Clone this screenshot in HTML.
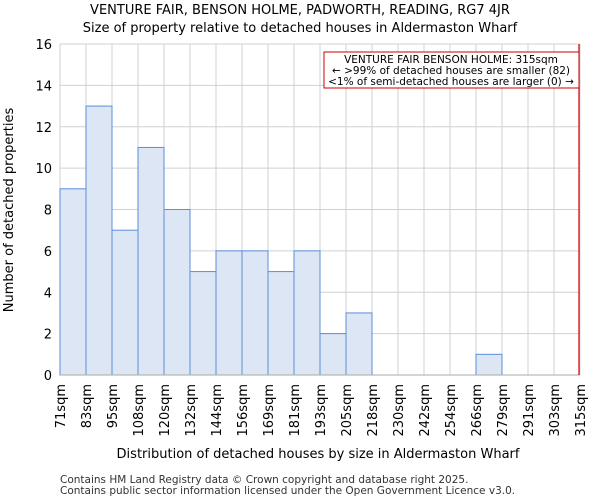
<!DOCTYPE html>
<html><head><meta charset="utf-8"><style>
body{margin:0;background:#fff;font-family:"DejaVu Sans","Liberation Sans",sans-serif}
</style></head><body>
<svg width="600" height="500" xmlns="http://www.w3.org/2000/svg" font-family="DejaVu Sans, Liberation Sans, sans-serif">
<g id="grid"></g>
<g id="bars"></g>
<g id="xt"></g>
<g id="yt"></g>
<line x1="60" y1="375" x2="580" y2="375" stroke="#aaa"/>
<line x1="579" y1="44" x2="579" y2="375" stroke="#cc0000" stroke-width="1.2"/>
<rect x="324" y="52" width="255" height="36" fill="#fff" stroke="#cc0000"/>
<g font-size="10.5" text-anchor="middle" fill="#000">
<text x="451" y="63">VENTURE FAIR BENSON HOLME: 315sqm</text>
<text x="451" y="74">← &gt;99% of detached houses are smaller (82)</text>
<text x="451" y="85">&lt;1% of semi-detached houses are larger (0) →</text>
</g>
<text x="300" y="14" font-size="13" text-anchor="middle">VENTURE FAIR, BENSON HOLME, PADWORTH, READING, RG7 4JR</text>
<text x="300" y="32" font-size="13" text-anchor="middle">Size of property relative to detached houses in Aldermaston Wharf</text>
<text x="318" y="458" font-size="13" text-anchor="middle">Distribution of detached houses by size in Aldermaston Wharf</text>
<text transform="translate(13,210) rotate(-90)" font-size="13" text-anchor="middle">Number of detached properties</text>
<text x="60" y="483" font-size="10.5" fill="#333">Contains HM Land Registry data © Crown copyright and database right 2025.</text>
<text x="60" y="494" font-size="10.5" fill="#333">Contains public sector information licensed under the Open Government Licence v3.0.</text>
</svg>
<script>
const categories=["71sqm","83sqm","95sqm","108sqm","120sqm","132sqm","144sqm","156sqm","169sqm","181sqm","193sqm","205sqm","218sqm","230sqm","242sqm","254sqm","266sqm","279sqm","291sqm","303sqm","315sqm"];
const counts=[9,13,7,11,8,5,6,6,5,6,2,3,0,0,0,0,1,0,0,0];
const yTicks=[0,2,4,6,8,10,12,14,16];
const NS="http://www.w3.org/2000/svg";
const x0=60,x1=580,y0=375,yTop=44,yMax=16;
const bw=(x1-x0)/counts.length;
const xs=i=>x0+i*bw;
const ys=v=>y0-(v/yMax)*(y0-yTop);
function mk(t,a,p){const e=document.createElementNS(NS,t);for(const k in a)e.setAttribute(k,a[k]);p.appendChild(e);return e;}
const grid=document.getElementById('grid'),bars=document.getElementById('bars'),xt=document.getElementById('xt'),yt=document.getElementById('yt');
yTicks.forEach(v=>{
const l=mk('line',{x1:x0,x2:x1,y1:ys(v),y2:ys(v),stroke:'#d0d0d0'},grid);


const t=mk('text',{x:x0-8,y:ys(v)+5,'font-size':13,'text-anchor':'end'},yt);
t.textContent=v;


});
categories.forEach((c,i)=>{
const l=mk('line',{x1:xs(i),x2:xs(i),y1:yTop,y2:y0,stroke:'#d0d0d0'},grid);


const t=mk('text',{transform:`translate(${xs(i)+5},384) rotate(-90)`,'font-size':13,'text-anchor':'end'},xt);
t.textContent=c;


});
counts.forEach((v,i)=>{
if(v<=0)return;
const r=mk('rect',{x:xs(i),y:ys(v),width:bw,height:y0-ys(v),fill:'#dce6f4',stroke:'#5b8fd9','stroke-width':1},bars);


});
</script>
</body></html>
